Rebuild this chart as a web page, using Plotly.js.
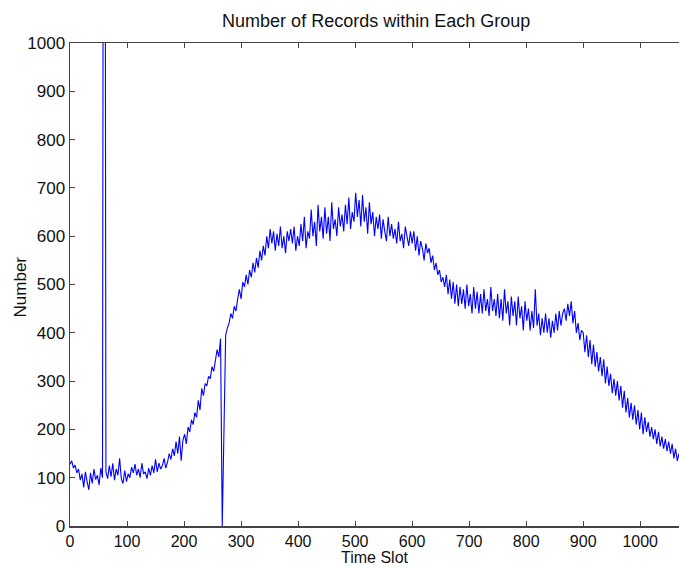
<!DOCTYPE html>
<html>
<head>
<meta charset="utf-8">
<script src="https://cdn.plot.ly/plotly-3.0.1.min.js"></script>
<style>html,body{margin:0;padding:0;background:#fff;}#chart{width:679px;height:568px;}</style>
</head>
<body>
<div id="chart"></div>
<script>
// Time slot step between sampled readings
const slotStep = 3;
const records = [
  128, 135, 120, 126, 110, 118, 95, 108, 80, 112,
  92, 75, 110, 88, 118, 96, 105, 85, 120, 100,
  3000, 112, 98, 125, 102, 130, 95, 118, 105, 140,
  98, 88, 115, 92, 108, 100, 122, 110, 128, 105,
  118, 100, 130, 108, 112, 98, 120, 105, 125, 110,
  138, 112, 130, 118, 125, 140, 120, 132, 150, 138,
  160, 145, 175, 150, 185, 135, 178, 190, 170, 205,
  195, 220, 210, 235, 225, 260, 240, 285, 270, 295,
  290, 310, 305, 330, 320, 345, 365, 350, 388, 0,
  205, 395, 410, 420, 440, 430, 455, 445, 470, 490,
  470, 505, 495, 520, 500, 530, 515, 545, 525, 555,
  535, 570, 550, 580, 560, 600, 575, 615, 585, 610,
  570, 605, 580, 620, 575, 600, 565, 610, 590, 615,
  585, 620, 570, 600, 580, 625, 590, 640, 575, 610,
  595, 655, 600, 630, 580, 665, 610, 640, 595, 660,
  605, 640, 590, 670, 615, 635, 600, 660, 620, 645,
  610, 665, 625, 680, 615, 650, 630, 690, 640, 675,
  620, 685, 630, 660, 605, 670, 625, 650, 600, 640,
  615, 645, 595, 635, 610, 590, 640, 600, 625, 595,
  615, 585, 630, 590, 605, 575, 620, 595, 580, 610,
  585, 610, 570, 600, 560, 590, 575, 550, 585, 565,
  575, 545, 560, 530, 545, 520, 530, 505, 515, 495,
  520, 480, 510, 470, 505, 460, 500, 455, 495, 460,
  490, 450, 500, 455, 480, 440, 495, 450, 485, 440,
  480, 440, 490, 445, 470, 435, 495, 445, 470, 435,
  480, 430, 470, 425, 490, 440, 465, 415, 475, 435,
  465, 415, 475, 430, 455, 405, 465, 425, 450, 405,
  445, 410, 490, 415, 440, 395, 430, 400, 440, 400,
  430, 390, 425, 400, 440, 405, 445, 415, 440, 450,
  425, 460, 435, 465, 420, 445, 400, 420, 385, 405,
  400, 360, 395, 350, 385, 335, 375, 330, 360, 320,
  350, 310, 345, 295, 330, 290, 315, 275, 305, 270,
  300, 260, 290, 245, 280, 235, 265, 225, 255, 220,
  250, 210, 240, 200, 235, 190, 225, 195, 215, 185,
  205, 180, 200, 170, 195, 165, 185, 160, 180, 155,
  175, 150, 170, 140, 160, 135, 150, 140
];
const timeSlots = records.map((_, i) => i * slotStep);
const xTicks = [0, 100, 200, 300, 400, 500, 600, 700, 800, 900, 1000];
const yTicks = [0, 100, 200, 300, 400, 500, 600, 700, 800, 900, 1000];

const font = "Liberation Sans, Arial, Helvetica, sans-serif";

Plotly.newPlot('chart', [{
  x: timeSlots,
  y: records,
  type: 'scatter',
  mode: 'lines',
  line: {color: '#0000ff', width: 1.1},
  hoverinfo: 'skip'
}], {
  width: 679, height: 568,
  margin: {l: 70, r: 0, t: 43, b: 42},
  paper_bgcolor: '#fff', plot_bgcolor: '#fff',
  showlegend: false,
  title: {text: 'Number of Records within Each Group', x: 0.554, xanchor: 'center', y: 0.963, yanchor: 'middle',
          font: {family: font, size: 18, color: '#111'}},
  xaxis: {
    range: [0, 1068], tickvals: xTicks, ticktext: xTicks.map(String),
    ticks: 'inside', ticklen: 5, tickcolor: '#444', tickwidth: 1,
    showline: true, linecolor: '#444', linewidth: 1.5, mirror: 'ticks',
    showgrid: false, zeroline: false,
    tickfont: {family: font, size: 16, color: '#111'}
  },
  yaxis: {
    range: [0, 1000], tickvals: yTicks, ticktext: yTicks.map(String),
    ticks: 'inside', ticklen: 5, tickcolor: '#444', tickwidth: 1,
    showline: true, linecolor: '#444', linewidth: 1.5,
    showgrid: false, zeroline: false,
    tickfont: {family: font, size: 17, color: '#111'}
  },
  annotations: [
    {text: 'Time Slot', xref: 'paper', yref: 'paper', x: 0.5, y: -0.084, xanchor: 'center', yanchor: 'bottom',
     borderpad: 0, showarrow: false, font: {family: font, size: 16, color: '#111'}},
    {text: 'Number', xref: 'paper', yref: 'paper', x: -0.082, y: 0.494, xanchor: 'center', yanchor: 'middle',
     textangle: -90, showarrow: false, font: {family: font, size: 17, color: '#111'}}
  ]
}, {displayModeBar: false, staticPlot: true});
</script>
</body>
</html>
